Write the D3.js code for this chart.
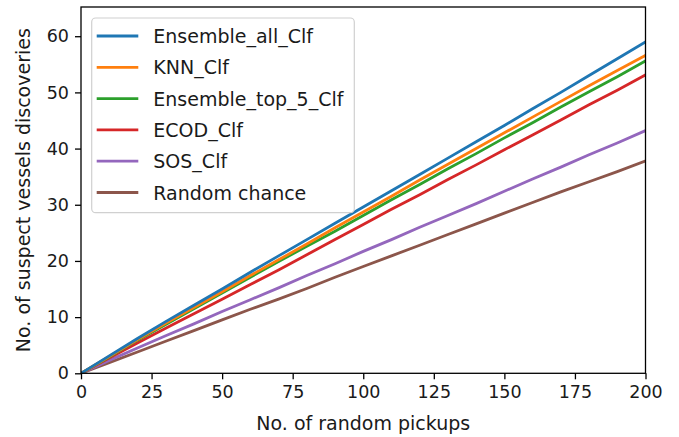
<html>
<script src='https://d3js.org/d3.v7.min.js'></script>
<style>
 body {margin:0; background:white;}
 text {font-family: 'DejaVu Sans', sans-serif; fill: #1a1a1a;}
</style>
<body onload='init()'>
<svg width=679 height=437></svg>
<script>
// pickups 0..200, step 10
var pickups = [0,10,20,30,40,50,60,70,80,90,100,110,120,130,140,150,160,170,180,190,200];

var names = ["Ensemble_all_Clf","KNN_Clf","Ensemble_top_5_Clf","ECOD_Clf","SOS_Clf","Random chance"];
var colors = ["#1f77b4","#ff7f0e","#2ca02c","#d62728","#9467bd","#8c564b"];

var ensembleAll = [0,3.1,6.2,9.2,12.1,15.0,18.0,20.9,23.8,26.7,29.6,32.5,35.4,38.3,41.2,44.1,47.1,50.0,53.0,56.0,59.0];
var knn         = [0,3.0,6.0,8.9,11.7,14.5,17.4,20.2,23.0,25.9,28.7,31.5,34.4,37.2,40.0,42.8,45.6,48.4,51.2,53.9,56.6];
var ensTop5     = [0,2.9,5.9,8.7,11.5,14.3,17.1,19.9,22.6,25.3,28.1,30.9,33.6,36.4,39.1,41.9,44.6,47.4,50.1,52.8,55.6];
var ecod        = [0,2.7,5.4,8.0,10.6,13.2,15.8,18.4,21.1,23.8,26.5,29.2,31.8,34.5,37.1,39.8,42.4,45.1,47.8,50.4,53.1];
var sos         = [0,2.3,4.5,6.7,8.8,11.0,13.1,15.2,17.4,19.5,21.7,23.8,26.0,28.1,30.2,32.4,34.6,36.7,38.9,41.0,43.2];
var randomChance= [0,1.9,3.8,5.7,7.6,9.5,11.4,13.2,15.1,17.1,19.0,20.9,22.8,24.7,26.6,28.5,30.4,32.3,34.1,35.9,37.8];

var series = [ensembleAll, knn, ensTop5, ecod, sos, randomChance];

var xTicks = [0,25,50,75,100,125,150,175,200];
var yTicks = [0,10,20,30,40,50,60];

function init() {
  var left = 81, right = 645.5, top = 7, bottom = 373.3;
  var svg = d3.select("svg");

  var x = d3.scaleLinear().domain([0,200]).range([left,right]);
  var y = d3.scaleLinear().domain([0,65.2]).range([bottom,top]);

  svg.append("clipPath").attr("id","clip")
    .append("rect").attr("x",left).attr("y",top)
    .attr("width",right-left).attr("height",bottom-top);

  var line = d3.line()
    .x(function(d,i){return x(pickups[i]);})
    .y(function(d){return y(d);});

  var g = svg.append("g").attr("clip-path","url(#clip)");
  // draw in reverse so the first series sits on top
  for (var k = series.length-1; k >= 0; k--) {
    g.append("path").datum(series[k])
      .attr("d", line)
      .attr("fill","none")
      .attr("stroke", colors[k])
      .attr("stroke-width", 2.8)
      .attr("stroke-linejoin","round")
      .attr("stroke-linecap","square");
  }

  var xAxis = d3.axisBottom(x).tickValues(xTicks).tickSize(6).tickPadding(6).tickSizeOuter(0);
  var yAxis = d3.axisLeft(y).tickValues(yTicks).tickSize(6).tickPadding(6).tickSizeOuter(0);

  var gx = svg.append("g").attr("transform","translate(0,"+bottom+")").call(xAxis);
  var gy = svg.append("g").attr("transform","translate("+left+",0)").call(yAxis);
  [gx,gy].forEach(function(a){
    a.select(".domain").remove();
    a.selectAll(".tick line").attr("stroke","#000").attr("stroke-width",1.3);
    a.selectAll(".tick text").style("font-size","17.5px").style("font-family","DejaVu Sans").attr("fill","#1a1a1a");
  });

  // spines
  svg.append("rect").attr("x",left).attr("y",top)
    .attr("width",right-left).attr("height",bottom-top)
    .attr("fill","none").attr("stroke","#000").attr("stroke-width",1.3);

  svg.append("text").attr("x",(left+right)/2).attr("y",430)
    .attr("text-anchor","middle").style("font-size","19px")
    .text("No. of random pickups");

  svg.append("text")
    .attr("transform","translate(30,"+((top+bottom)/2)+") rotate(-90)")
    .attr("text-anchor","middle").style("font-size","19px")
    .text("No. of suspect vessels discoveries");

  // legend
  var lg = svg.append("g");
  lg.append("rect").attr("x",91.7).attr("y",18).attr("width",262.6).attr("height",194.7)
    .attr("rx",4).attr("fill","white").attr("fill-opacity",0.8)
    .attr("stroke","#d0d0d0").attr("stroke-width",1.2);
  names.forEach(function(n,i){
    var yy = 36 + i*31.3;
    lg.append("line").attr("x1",96.7).attr("x2",138.3).attr("y1",yy).attr("y2",yy)
      .attr("stroke",colors[i]).attr("stroke-width",2.8);
    lg.append("text").attr("x",153.3).attr("y",yy+7).style("font-size","19px").text(n);
  });
}
</script>
</body>
</html>
